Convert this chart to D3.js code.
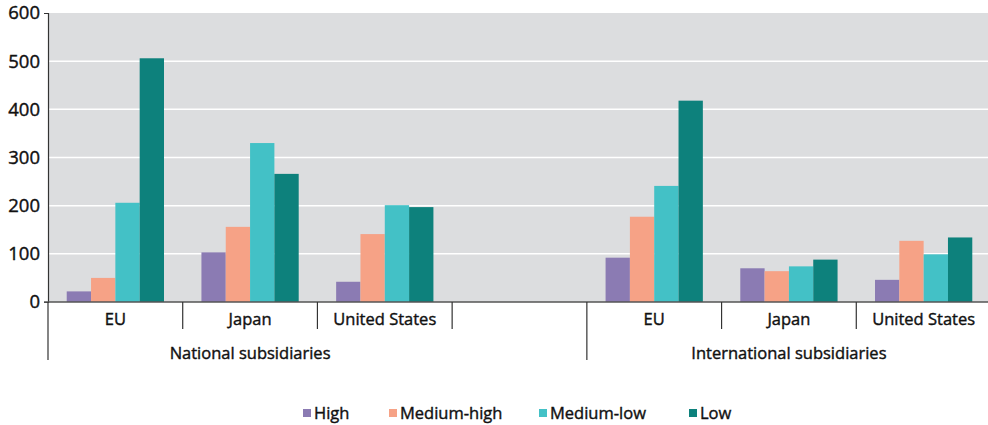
<!DOCTYPE html>
<html>
<head>
<meta charset="utf-8">
<script src="https://cdn.jsdelivr.net/npm/d3@7"></script>
<style>
  body { margin: 0; background: #fff; font-family: "Open Sans", sans-serif; }
  text { stroke: #111; stroke-width: 0.4px; }
  .y-axis text { font-size: 18.5px; fill: #111; }
  .cat-label { font-size: 16.5px; fill: #111; }
  .legend text { font-size: 16.5px; fill: #111; }
</style>
</head>
<body>
<div id="chart"></div>
<script>
// data
const slots = ["nat-EU", "nat-Japan", "nat-US", "gap", "int-EU", "int-Japan", "int-US"];
const slotLabels = ["EU", "Japan", "United States", "", "EU", "Japan", "United States"];
const groups = ["National subsidiaries", "International subsidiaries"];
const groupSpans = [["nat-EU", "gap"], ["int-EU", "int-US"]];
const series = ["High", "Medium-high", "Medium-low", "Low"];
const colors = ["#8b7bb3", "#f6a286", "#43c1c6", "#0d817c"];
const high      = [22, 103, 42, null, 92, 70, 46];
const medHigh   = [50, 156, 141, null, 177, 64, 127];
const medLow    = [206, 330, 201, null, 241, 74, 99];
const low       = [506, 266, 197, null, 418, 88, 134];
const yTicks = [0, 100, 200, 300, 400, 500, 600];

const values = [high, medHigh, medLow, low];

const width = 988, height = 425;
const margin = {top: 13, left: 48};
const plotRight = 991;
const plotBottom = 302;

const svg = d3.select("#chart").append("svg")
    .attr("width", width)
    .attr("height", height);

const x0 = d3.scaleBand()
    .domain(slots)
    .range([margin.left, plotRight])
    .padding(0);

const x1 = d3.scaleBand()
    .domain(series)
    .range([0, x0.bandwidth()])
    .paddingInner(0)
    .paddingOuter(0.77);

const y = d3.scaleLinear()
    .domain([0, 600])
    .range([plotBottom, margin.top]);

// background
svg.append("rect")
    .attr("x", margin.left)
    .attr("y", margin.top)
    .attr("width", plotRight - margin.left)
    .attr("height", plotBottom - margin.top)
    .attr("fill", "#dcdddf");

// gridlines
svg.append("g")
    .selectAll("line")
    .data(yTicks.filter(d => d > 0 && d < 600))
    .join("line")
    .attr("x1", margin.left)
    .attr("x2", plotRight)
    .attr("y1", d => y(d))
    .attr("y2", d => y(d))
    .attr("stroke", "#fff")
    .attr("stroke-width", 1.5);

// bars
const barData = [];
slots.forEach((s, i) => {
    series.forEach((k, j) => {
        if (values[j][i] != null) barData.push({slot: s, key: k, value: values[j][i], color: colors[j]});
    });
});

svg.append("g")
    .selectAll("rect")
    .data(barData)
    .join("rect")
    .attr("x", d => x0(d.slot) + x1(d.key))
    .attr("y", d => y(d.value))
    .attr("width", x1.bandwidth())
    .attr("height", d => plotBottom - y(d.value))
    .attr("fill", d => d.color);

// y axis
const yAxis = d3.axisLeft(y)
    .tickValues(yTicks)
    .tickSize(0)
    .tickSizeOuter(4)
    .tickPadding(8);

const yg = svg.append("g")
    .attr("class", "y-axis")
    .attr("transform", `translate(${margin.left},0)`)
    .call(yAxis);
yg.select(".domain").attr("stroke", "#333").attr("stroke-width", 1.2);
yg.selectAll(".tick text").attr("font-family", "Open Sans");

// x axis baseline
svg.append("line")
    .attr("x1", margin.left - 4)
    .attr("x2", plotRight)
    .attr("y1", plotBottom)
    .attr("y2", plotBottom)
    .attr("stroke", "#555")
    .attr("stroke-width", 1.5);

// left axis continues down through the labels
svg.append("line")
    .attr("x1", margin.left)
    .attr("x2", margin.left)
    .attr("y1", plotBottom)
    .attr("y2", 360)
    .attr("stroke", "#333")
    .attr("stroke-width", 1.2);

// category dividers
const dividers = slots.slice(1);
svg.append("g")
    .selectAll("line")
    .data(dividers)
    .join("line")
    .attr("x1", d => x0(d))
    .attr("x2", d => x0(d))
    .attr("y1", plotBottom)
    .attr("y2", d => d === "int-EU" ? 360 : 329)
    .attr("stroke", "#333")
    .attr("stroke-width", 1.2);

// category labels
svg.append("g")
    .selectAll("text")
    .data(slots)
    .join("text")
    .attr("class", "cat-label")
    .attr("x", d => x0(d) + x0.bandwidth() / 2)
    .attr("y", 325)
    .attr("text-anchor", "middle")
    .text((d, i) => slotLabels[i]);

// group labels
svg.append("g")
    .selectAll("text")
    .data(groups)
    .join("text")
    .attr("class", "cat-label")
    .attr("x", (d, i) => {
        const a = x0(groupSpans[i][0]);
        const b = x0(groupSpans[i][1]) + (i === 0 ? 0 : x0.bandwidth());
        return (a + b) / 2;
    })
    .attr("y", 359)
    .attr("text-anchor", "middle")
    .text(d => d);

// legend
const legendX = [303, 389, 539, 689];
const legend = svg.append("g").attr("class", "legend");
const li = legend.selectAll("g")
    .data(series)
    .join("g")
    .attr("transform", (d, i) => `translate(${legendX[i]},409)`);
li.append("rect")
    .attr("width", 8)
    .attr("height", 8)
    .attr("fill", (d, i) => colors[i]);
li.append("text")
    .attr("x", 11)
    .attr("y", 9.5)
    .text(d => d);
</script>
</body>
</html>
